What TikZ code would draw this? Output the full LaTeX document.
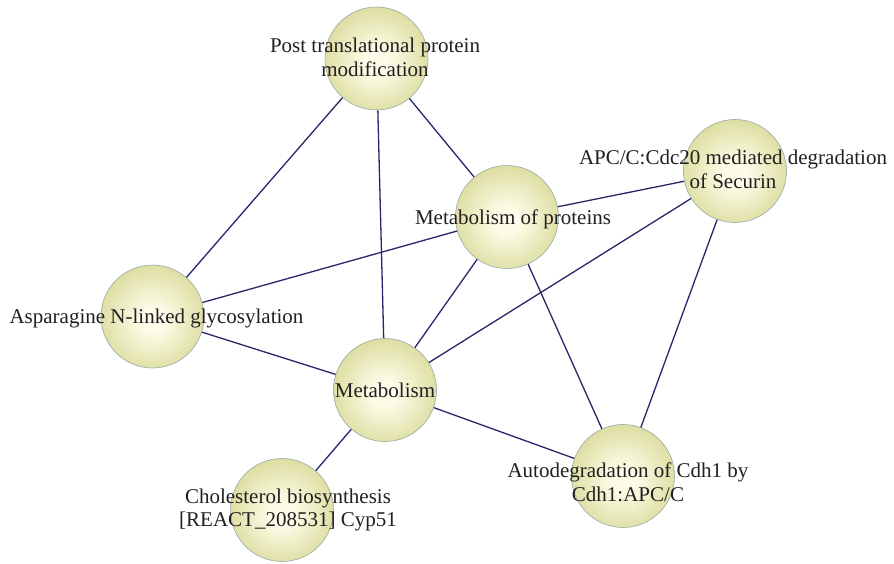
\documentclass[tikz,border=0pt]{standalone}
\usepackage{fontspec}
\setmainfont{Liberation Serif}
\definecolor{blobin}{RGB}{252,252,232}
\definecolor{blobout}{RGB}{200,200,112}
\definecolor{blobedge}{RGB}{150,172,165}
\definecolor{edgecol}{RGB}{42,38,108}
\definecolor{txt}{RGB}{35,31,32}
\pgfdeclareradialshading{blobshade}{\pgfpoint{0bp}{-2bp}}{color(0bp)=(blobin); color(6bp)=(blobin); color(40bp)=(blobout); color(50bp)=(blobout)}
\begin{document}
\begin{tikzpicture}[x=1pt,y=-1pt,
  blob/.style={circle, minimum size=103pt, inner sep=0pt, draw=blobedge, line width=0.6pt, shading=blobshade},
  lbl/.style={inner sep=0pt, align=center, text=txt, font=\fontsize{21}{23.5}\selectfont},
  link/.style={draw=edgecol, line width=1.3pt}]
\fill[white] (0,0) rectangle (894,563);
\useasboundingbox (0,0) rectangle (894,563);
% circles
\node[blob] (post) at (376.5,58.5) {};
\node[blob] (metp) at (507,217) {};
\node[blob] (apc)  at (735,171) {};
\node[blob] (asp)  at (152.5,316.5) {};
\node[blob] (met)  at (385,390) {};
\node[blob] (chol) at (282,510) {};
\node[blob] (auto) at (623,476) {};
% connectors
\draw[link] (post) -- (asp);
\draw[link] (post) -- (met);
\draw[link] (post) -- (metp);
\draw[link] (metp) -- (asp);
\draw[link] (metp) -- (apc);
\draw[link] (metp) -- (met);
\draw[link] (metp) -- (auto);
\draw[link] (apc) -- (met);
\draw[link] (apc) -- (auto);
\draw[link] (asp) -- (met);
\draw[link] (met) -- (chol);
\draw[link] (met) -- (auto);
% labels
\node[lbl] (postl) at (375,59.8) {\strut Post translational protein\\\strut modification};
\node[lbl] (metpl) at (513,219.3) {\strut Metabolism of proteins};
\node[lbl] (apcl)  at (733,171.8) {\strut APC/C:Cdc20 mediated degradation\\\strut of Securin};
\node[lbl] (aspl)  at (156.5,318.3) {\strut Asparagine N-linked glycosylation};
\node[lbl] (metl)  at (385,392.3) {\strut Metabolism};
\node[lbl] (choll) at (288,510.3) {\strut Cholesterol biosynthesis\\\strut [REACT\_208531] Cyp51};
\node[lbl] (autol) at (628,484.8) {\strut Autodegradation of Cdh1 by\\\strut Cdh1:APC/C};
\end{tikzpicture}
\end{document}
